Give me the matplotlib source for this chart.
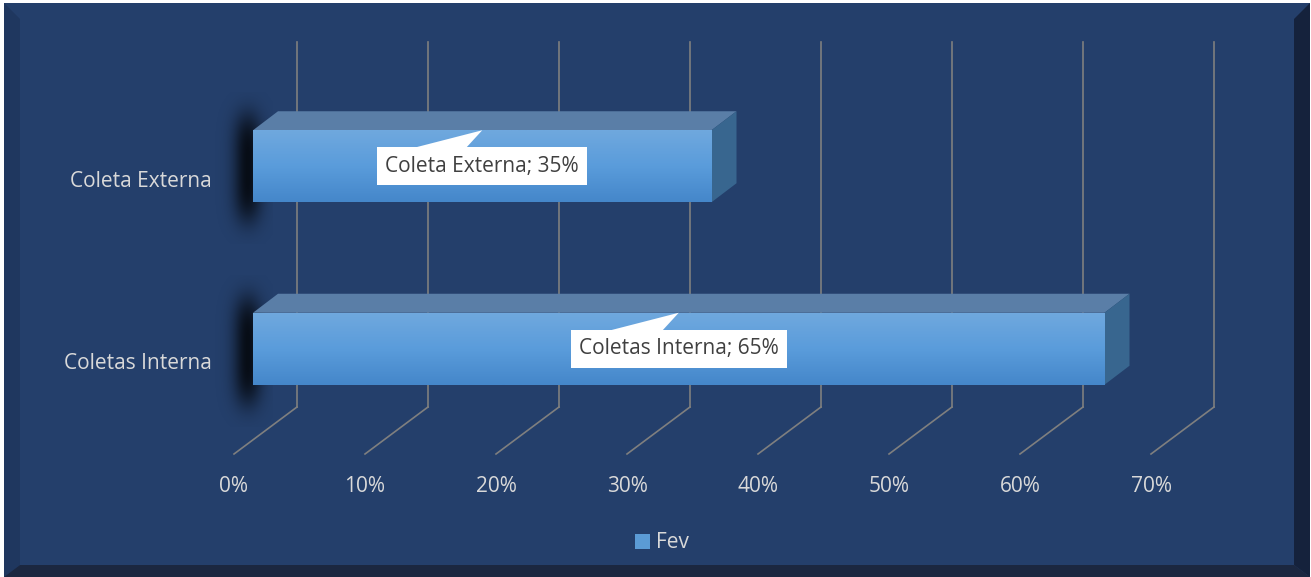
import matplotlib
matplotlib.use("Agg")
import matplotlib.pyplot as plt
import numpy as np
from matplotlib.patches import Polygon, Patch
from matplotlib.colors import LinearSegmentedColormap
from matplotlib.transforms import ScaledTranslation

plt.rcParams['font.family'] = ['Open Sans', 'DejaVu Sans']

# data
categories = ['Coletas Interna', 'Coleta Externa']
values = [65, 35]
series_name = 'Fev'
xticks = [0, 10, 20, 30, 40, 50, 60, 70]
xtick_labels = ['0%', '10%', '20%', '30%', '40%', '50%', '60%', '70%']

W, H = 1311, 577
fs = 15
fig = plt.figure(figsize=(W / 100, H / 100), dpi=100, facecolor='white')

# background frame with bevel (pixel coords)
bg = fig.add_axes([0, 0, 1, 1])
bg.set_xlim(0, W)
bg.set_ylim(H, 0)
bg.axis('off')
face = '#243F6B'
bg.add_patch(Polygon([(4, 3), (1310, 3), (1310, 577), (4, 577)], closed=True, fc=face, ec='none'))
bg.add_patch(Polygon([(4, 3), (20, 19), (20, 565), (4, 577)], closed=True, fc='#1F375F', ec='none'))
bg.add_patch(Polygon([(1310, 3), (1294, 19), (1294, 565), (1310, 577)], closed=True, fc='#15223C', ec='none'))
bg.add_patch(Polygon([(4, 577), (20, 565), (1294, 565), (1310, 577)], closed=True, fc='#1B2740', ec='none'))

# main axes = front plane of the bars
left, right, top, bottom = 253, 1170, 75, 440
ax = fig.add_axes([left / W, 1 - bottom / H, (right - left) / W, (bottom - top) / H])
ax.set_facecolor('none')
ax.axis('off')
xmax = 70
ylo, yhi = -0.5, len(categories) - 0.5
ax.set_xlim(0, xmax)
ax.set_ylim(ylo, yhi)

px_x = xmax / (right - left)          # data units per pixel
px_y = (yhi - ylo) / (bottom - top)


def offset(dx, dy):
    # pixel offset (dy positive = up)
    return ax.transData + ScaledTranslation(dx / 100, dy / 100, fig.dpi_scale_trans)


back = offset(44, 33)
front = offset(-19, -14)
grid_c = '#7F7F7F'

for x, lab in zip(xticks, xtick_labels):
    # back wall line
    ax.plot([x, x], [ylo, yhi], color=grid_c, lw=1.2, transform=back, zorder=1, clip_on=False)
    # floor line
    p0 = back.transform((x, ylo))
    p1 = front.transform((x, ylo))
    ax.plot([p0[0], p1[0]], [p0[1], p1[1]], color=grid_c, lw=1.2, transform=None, zorder=1, clip_on=False)
    ax.text(x, ylo, lab, transform=offset(-19, -46), ha='center', va='center',
            fontsize=fs, color='#D9D9D9')

for i, c in enumerate(categories):
    ax.text(0, i, c, transform=offset(-41, -15), ha='right', va='center',
            fontsize=fs, color='#D9D9D9')

# bars
h = 72 * px_y
ddx, ddy = 25 * px_x, 19 * px_y
grad = LinearSegmentedColormap.from_list('g', ['#6FA8DE', '#5A9CDB', '#4587CA'])
gy, gx = np.mgrid[0:1:80j, 0:1:60j]
for i, v in enumerate(values):
    y0, y1 = i - h / 2, i + h / 2
    # soft shadow on the left
    sh = np.zeros((80, 60, 4))
    sx = np.exp(-((gx - 0.62) / 0.22) ** 2)
    sy = np.exp(-((gy - 0.5) / 0.36) ** 4)
    sh[..., 3] = 0.8 * sx * sy
    ax.imshow(sh, extent=(-3.5, 1.5, y0 - 42 * px_y, y1 + 38 * px_y), aspect='auto',
              zorder=2, clip_on=False, interpolation='bilinear')
    # top face
    ax.add_patch(Polygon([(0, y1), (v, y1), (v + ddx, y1 + ddy), (ddx, y1 + ddy)],
                         closed=True, fc='#5A7EA7', ec='none', zorder=3, clip_on=False))
    # side face
    ax.add_patch(Polygon([(v, y0), (v, y1), (v + ddx, y1 + ddy), (v + ddx, y0 + ddy)],
                         closed=True, fc='#38668F', ec='none', zorder=3, clip_on=False))
    # front face
    ax.imshow(np.linspace(0, 1, 50).reshape(-1, 1), cmap=grad, extent=(0, v, y0, y1),
              aspect='auto', zorder=4, interpolation='bilinear')
    # data label with callout
    cx = v / 2
    box_top = i + 18.5 * px_y
    ax.add_patch(Polygon([(cx, y1), (cx - 72 * px_x, box_top - 1 * px_y), (cx - 17 * px_x, box_top - 1 * px_y)],
                         closed=True, fc='white', ec='none', zorder=5))
    ax.text(cx, i, f'{categories[i]}; {v}%', ha='center', va='center',
            fontsize=fs, color='#404040', zorder=6,
            bbox=dict(boxstyle='square,pad=0.4', fc='white', ec='none'))

ax.set_xlim(0, xmax)
ax.set_ylim(ylo, yhi)

fig.legend(handles=[Patch(facecolor='#5B9BD5', edgecolor='none')], labels=[series_name],
           loc='center', bbox_to_anchor=(662 / W, 1 - 543 / H), frameon=False,
           handlelength=0.75, handleheight=0.75, handletextpad=0.3,
           fontsize=fs, labelcolor='#D9D9D9')

fig.savefig('out.png', dpi=100, facecolor='white')
